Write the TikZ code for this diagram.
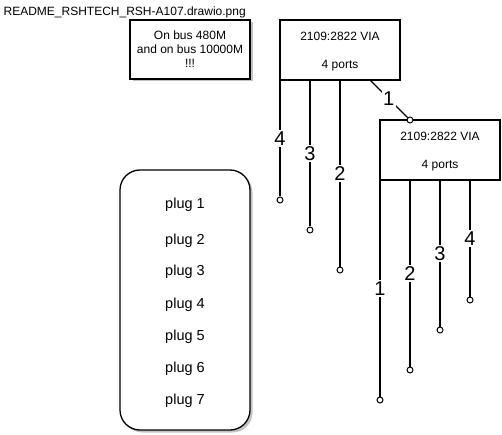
\documentclass[tikz,border=0pt]{standalone}
\usepackage{fontspec}
\setmainfont{Liberation Sans}
\usetikzlibrary{shadows}

\begin{document}
\begin{tikzpicture}[x=1pt,y=-1pt,line width=1.3pt,
	box/.style={draw,fill=white,minimum width=120pt,minimum height=60pt,align=center,
	inner sep=0pt,font=\fontsize{12}{14}\selectfont},
	shade/.style={drop shadow={shadow xshift=2.5pt,shadow yshift=-2.5pt,opacity=.4,fill=black!60}},
	port/.style={circle,draw,fill=white,line width=1pt,minimum size=6pt,inner sep=0pt},
	num/.style={midway,fill=white,inner sep=1.5pt,font=\fontsize{20}{20}\selectfont}]
\useasboundingbox (0,0) rectangle (502,435);
\node[anchor=west,inner sep=0pt,font=\fontsize{12}{14}\selectfont] (title) at (3,12) {README\_RSHTECH\_RSH-A107.drawio.png};
\node[box,shade,minimum height=59pt] (note) at (190,49.5) {On bus 480M\\and on bus 10000M\\!!!};
\node[box] (hub1) at (340,50) {};
\node[box] (hub2) at (440,150) {};
\foreach \h in {1,2}
	\node[align=center,font=\fontsize{12}{14}\selectfont] (hub\h text) at ([yshift=-1.5pt]hub\h.center) {2109:2822 VIA\\[14pt]4 ports};
\node[draw,fill=white,shade,rounded corners=20pt,minimum width=130pt,minimum height=260pt] (plugs) at (185,300) {};
\foreach \i/\y in {1/203,2/239,3/270,4/303,5/335,6/367,7/399}
	\node[font=\fontsize{14.5}{14.5}\selectfont] (plug\i) at (185,\y+1.5) {plug \i};
% ports of the first hub
\foreach \n/\x/\y in {4/280/200,3/310/230,2/340/270}{
	\node[port] (ha\n) at (\x,\y) {};
	\draw (ha\n |- hub1.south) -- (ha\n) node[num] {\n};
}
\coordinate (ha1out) at (370,80);
\node[port] (ha1) at (410,120) {};
\draw (ha1out) -- (ha1) node[num] {1};
% ports of the second hub
\foreach \n/\x/\y in {1/380/400,2/410/370,3/440/330,4/470/300}{
	\node[port] (hb\n) at (\x,\y) {};
	\draw (hb\n |- hub2.south) -- (hb\n) node[num] {\n};
}
\end{tikzpicture}
\end{document}
